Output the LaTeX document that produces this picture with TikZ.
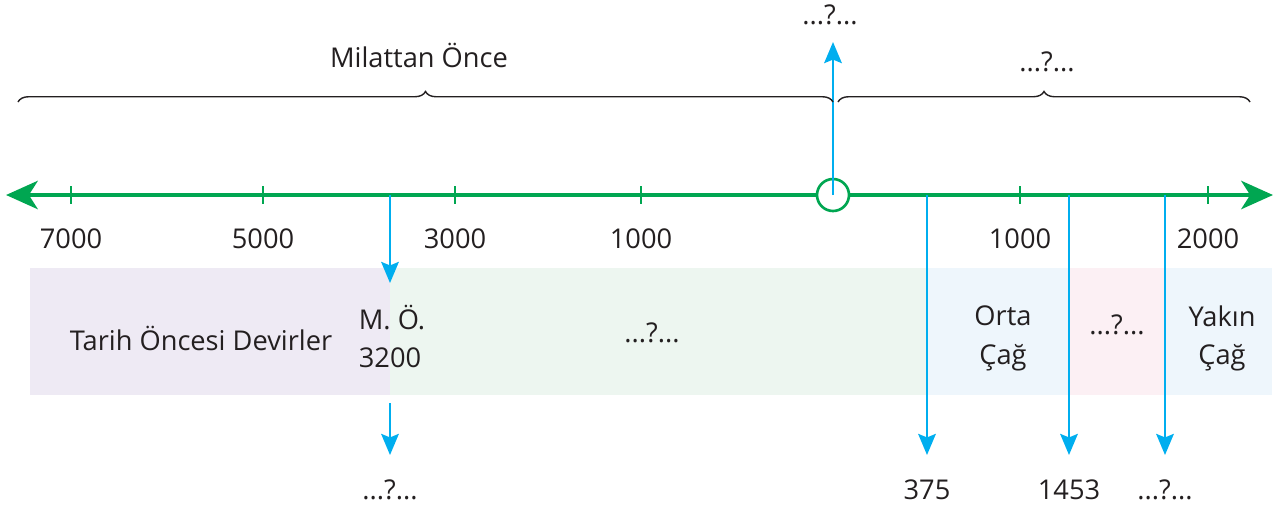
\documentclass[tikz,border=0pt]{standalone}
\usepackage{fontspec}
\setmainfont{Open Sans}
\usetikzlibrary{arrows.meta,decorations.pathreplacing}

\definecolor{axisgreen}{RGB}{0,166,81}
\definecolor{arrowblue}{RGB}{0,174,239}
\definecolor{bandpurple}{RGB}{238,234,244}
\definecolor{bandgreen}{RGB}{237,246,240}
\definecolor{bandblue}{RGB}{238,246,252}
\definecolor{bandpink}{RGB}{252,240,244}
\definecolor{inkgray}{RGB}{35,31,32}

\newcommand{\qmark}{...?...}

\tikzset{
  axisline/.style={axisgreen, line width=2.8pt,
    {Stealth[length=18pt,width=16pt,inset=5pt]}-{Stealth[length=18pt,width=16pt,inset=5pt]}},
  tick/.style={axisgreen, line width=1.5pt},
  bluearrow/.style={arrowblue, line width=1.4pt, -{Stealth[length=12pt,width=10pt,inset=2pt]}},
  brace/.style={decorate, decoration={brace, amplitude=6pt}, line width=0.8pt, inkgray},
  lbl/.style={text=inkgray, inner sep=1pt}
}

\begin{document}
\begin{tikzpicture}[x=0.02cm, y=-0.02cm, font=\fontsize{15.5}{18}\selectfont]
\useasboundingbox (0,0) rectangle (1278,512);

% bands
\fill[bandpurple] (30,268) rectangle (390,395);
\fill[bandgreen] (390,268) rectangle (927,395);
\fill[bandblue] (927,268) rectangle (1069,395);
\fill[bandpink] (1069,268) rectangle (1165,395);
\fill[bandblue] (1165,268) rectangle (1272,395);

% axis
\coordinate (axL) at (6,195);
\coordinate (axR) at (1273,195);
\draw[axisline] (axL) -- (axR);
\foreach \x/\yr [count=\i] in {71/7000,263/5000,455/3000,641/1000,1020/1000,1208/2000}
{
  \draw[tick] (\x,186) -- (\x,204);
  \node[lbl] (yr\i) at (\x,239) {\yr};
}

% zero point
\node[circle, draw=axisgreen, line width=1.5pt, fill=white, minimum size=0.64cm, inner sep=0pt] (zero) at (833,195) {};
\coordinate (qtop) at (833,42);
\draw[bluearrow] (zero.center) -- (qtop);
\node[lbl] (qzero) at (830,15) {\qmark};

% braces
\coordinate (bl1) at (18,102);
\coordinate (bl2) at (833,102);
\coordinate (br1) at (838,102);
\coordinate (br2) at (1250,102);
\draw[brace] (bl1) -- (bl2);
\draw[brace] (br1) -- (br2);
\node[lbl] (mo) at (419,55) {Milattan Önce};
\node[lbl] (ms) at (1047,62) {\qmark};

% band texts
\node[lbl] (tarih) at (201,338) {Tarih Öncesi Devirler};
\node[lbl] (mo1) at (392,318) {M. Ö.};
\node[lbl] (mo2) at (390,358) {3200};
\node[lbl] (ilk) at (652,333) {\qmark};
\node[lbl] (orta1) at (1003,316) {Orta};
\node[lbl] (orta2) at (1003,358) {Çağ};
\node[lbl] (yeni) at (1117,325) {\qmark};
\node[lbl] (yakin1) at (1222,316) {Yakın};
\node[lbl] (yakin2) at (1222,358) {Çağ};

% arrows down
\coordinate (s3200) at (390,195);
\coordinate (t3200) at (390,283);
\coordinate (u3200) at (390,403);
\coordinate (v3200) at (390,455);
\draw[bluearrow] (s3200) -- (t3200);
\draw[bluearrow] (u3200) -- (v3200);
\node[lbl] (d3200) at (390,490) {\qmark};

\foreach \x/\lab/\nm in {927/375/d375,1069/1453/d1453,1165/\qmark/dyeni}
{
  \coordinate (s\nm) at (\x,195);
  \coordinate (t\nm) at (\x,455);
  \draw[bluearrow] (s\nm) -- (t\nm);
  \node[lbl] (\nm) at (\x,490) {\lab};
}
\end{tikzpicture}
\end{document}
